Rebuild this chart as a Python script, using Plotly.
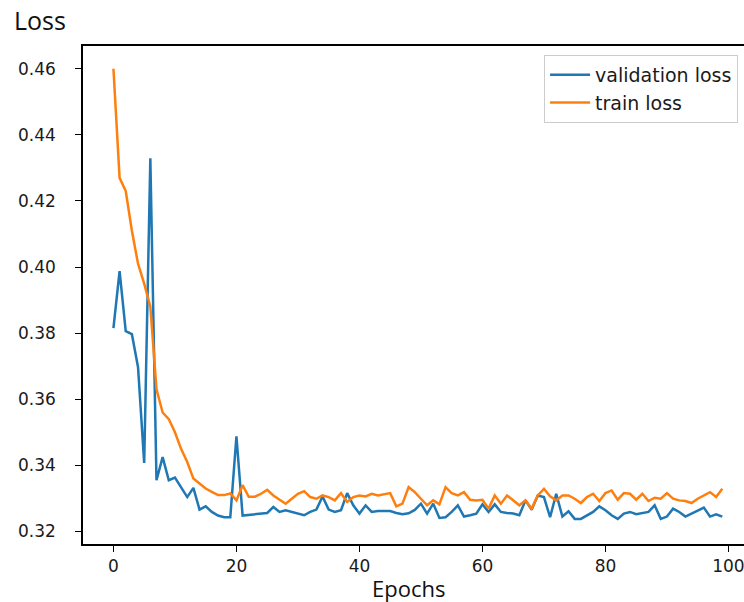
import plotly.graph_objects as go

epochs = list(range(100))

validation_loss = [
    0.3815, 0.3988, 0.3806, 0.3797, 0.3697, 0.3407, 0.4329, 0.3355, 0.3425, 0.3355,
    0.3363, 0.3332, 0.3304, 0.3332, 0.3266, 0.3276, 0.3259, 0.3248, 0.3243, 0.3243,
    0.3488, 0.3248, 0.3250, 0.3250, 0.3252, 0.3256, 0.3274, 0.3259, 0.3264, 0.3259,
    0.3252, 0.3249, 0.3259, 0.3266, 0.3306, 0.3266, 0.3259, 0.3264, 0.3316, 0.3279,
    0.3254, 0.3279, 0.3259, 0.3262, 0.3262, 0.3262, 0.3256, 0.3252, 0.3255, 0.3265,
    0.3284, 0.3254, 0.3284, 0.3241, 0.3243, 0.3259, 0.3279, 0.3245, 0.3249, 0.3254,
    0.3282, 0.3259, 0.3282, 0.3259, 0.3256, 0.3254, 0.3249, 0.3294, 0.3266, 0.3309,
    0.3304, 0.3243, 0.3314, 0.3245, 0.3261, 0.3238, 0.3238, 0.3249, 0.3259, 0.3276,
    0.3264, 0.3249, 0.3238, 0.3254, 0.3259, 0.3252, 0.3256, 0.3259, 0.3279, 0.3238,
    0.3245, 0.3269, 0.3259, 0.3245, 0.3254, 0.3262, 0.3272, 0.3245, 0.3252, 0.3245,
]

train_loss = [
    0.4600, 0.4270, 0.4230, 0.4110, 0.4010, 0.3950, 0.3880, 0.3630, 0.3560, 0.3540,
    0.3500, 0.3450, 0.3410, 0.3360, 0.3345, 0.3330, 0.3320, 0.3310, 0.3310, 0.3315,
    0.3294, 0.3340, 0.3305, 0.3305, 0.3314, 0.3326, 0.3309, 0.3296, 0.3284, 0.3299,
    0.3314, 0.3322, 0.3304, 0.3299, 0.3309, 0.3304, 0.3294, 0.3316, 0.3289, 0.3304,
    0.3309, 0.3306, 0.3314, 0.3309, 0.3312, 0.3316, 0.3276, 0.3284, 0.3334, 0.3319,
    0.3299, 0.3279, 0.3294, 0.3282, 0.3334, 0.3316, 0.3309, 0.3319, 0.3296, 0.3294,
    0.3296, 0.3269, 0.3309, 0.3284, 0.3309, 0.3294, 0.3279, 0.3294, 0.3269, 0.3309,
    0.3329, 0.3306, 0.3294, 0.3309, 0.3309, 0.3299, 0.3286, 0.3304, 0.3314, 0.3292,
    0.3316, 0.3324, 0.3296, 0.3316, 0.3314, 0.3296, 0.3314, 0.3292, 0.3302, 0.3299,
    0.3316, 0.3299, 0.3294, 0.3292, 0.3286, 0.3299, 0.3309, 0.3319, 0.3304, 0.3329,
]

x_ticks = [0, 20, 40, 60, 80, 100]
y_ticks = [0.32, 0.34, 0.36, 0.38, 0.40, 0.42, 0.44, 0.46]

series_names = ["validation loss", "train loss"]
series_colors = ["#1f77b4", "#ff7f0e"]

fig = go.Figure()
for name, vals, col in zip(series_names, [validation_loss, train_loss], series_colors):
    fig.add_trace(go.Scatter(x=epochs, y=vals, mode="lines", name=name,
                             line=dict(color=col, width=2.5)))

tick_font = dict(family="DejaVu Sans", size=17, color="#1a1a1a")

fig.update_layout(
    width=744, height=602,
    margin=dict(l=83, r=0, t=46, b=58),
    plot_bgcolor="white", paper_bgcolor="white",
    showlegend=True,
    legend=dict(x=0.991, y=0.982, xanchor="right", yanchor="top",
                bgcolor="rgba(255,255,255,0.9)", bordercolor="#cccccc", borderwidth=1,
                itemwidth=40,
                font=dict(family="DejaVu Sans", size=19, color="#1a1a1a")),
    xaxis=dict(range=[-4.95, 102.53], tickvals=x_ticks, ticks="outside", ticklen=6,
               tickwidth=1.3, tickcolor="black", showline=True, linecolor="black",
               linewidth=1.5, mirror=True, showgrid=False, zeroline=False,
               tickfont=tick_font, automargin=False, ticklabelstandoff=0,
               ticklabeloverflow="allow"),
    yaxis=dict(range=[0.3162, 0.4669], tickvals=y_ticks, tickformat=".2f",
               ticks="outside", ticklen=6, tickwidth=1.3, tickcolor="black",
               showline=True, linecolor="black", linewidth=1.5, showgrid=False,
               zeroline=False, tickfont=tick_font, automargin=False,
               ticklabelstandoff=16, ticklabeloverflow="allow"),
    annotations=[
        dict(text="Loss", xref="paper", yref="paper", x=-0.1074, y=1.0522,
             xanchor="left", yanchor="middle", showarrow=False,
             font=dict(family="Open Sans", size=25, color="#111111")),
        dict(text="Epochs", xref="paper", yref="paper", x=0.4917, y=-0.0883,
             xanchor="center", yanchor="middle", showarrow=False,
             font=dict(family="Open Sans", size=22, color="#111111")),
    ],
)

fig.write_html("out.html", config={"displayModeBar": False},
               post_script="document.body.style.margin='0px';")
